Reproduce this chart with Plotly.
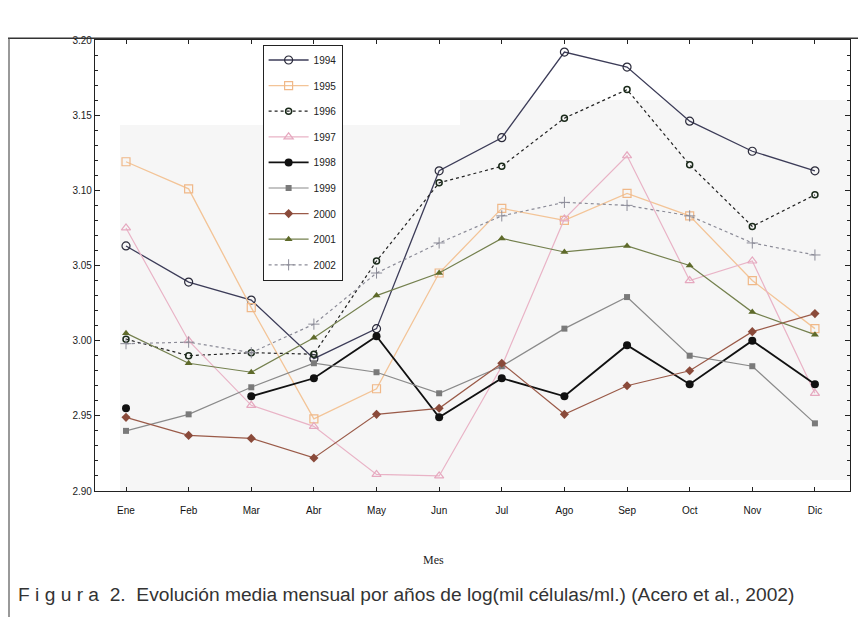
import plotly.graph_objects as go

months = ["Ene", "Feb", "Mar", "Abr", "May", "Jun", "Jul", "Ago", "Sep", "Oct", "Nov", "Dic"]
y1994 = [3.063, 3.039, 3.027, 2.988, 3.008, 3.113, 3.135, 3.192, 3.182, 3.146, 3.126, 3.113]
y1995 = [3.119, 3.101, 3.022, 2.948, 2.968, 3.045, 3.088, 3.080, 3.098, 3.083, 3.040, 3.008]
y1996 = [3.001, 2.990, 2.992, 2.991, 3.053, 3.105, 3.116, 3.148, 3.167, 3.117, 3.076, 3.097]
y1997 = [3.075, 3.000, 2.957, 2.943, 2.911, 2.910, 2.983, 3.081, 3.123, 3.040, 3.053, 2.965]
y1998 = [2.955, None, 2.963, 2.975, 3.003, 2.949, 2.975, 2.963, 2.997, 2.971, 3.000, 2.971]
y1999 = [2.940, 2.951, 2.969, 2.985, 2.979, 2.965, 2.983, 3.008, 3.029, 2.990, 2.983, 2.945]
y2000 = [2.949, 2.937, 2.935, 2.922, 2.951, 2.955, 2.985, 2.951, 2.970, 2.980, 3.006, 3.018]
y2001 = [3.005, 2.985, 2.979, 3.002, 3.030, 3.045, 3.068, 3.059, 3.063, 3.050, 3.019, 3.004]
y2002 = [2.998, 2.999, 2.992, 3.011, 3.045, 3.065, 3.083, 3.092, 3.090, 3.083, 3.065, 3.057]
yticks = [2.90, 2.95, 3.00, 3.05, 3.10, 3.15, 3.20]

series = [
    ("1994", y1994, dict(color="#3c3c58", width=1.3, dash="solid"),
     dict(symbol="circle-open", size=8, color="#2a2a3a", line=dict(width=1.2))),
    ("1995", y1995, dict(color="#f3c497", width=1.3, dash="solid"),
     dict(symbol="square-open", size=8, color="#f0b888", line=dict(width=1.2))),
    ("1996", y1996, dict(color="#222222", width=1.2, dash="dot"),
     dict(symbol="circle-open", size=6, color="#1a2a1a", line=dict(width=1.5))),
    ("1997", y1997, dict(color="#e9b3c6", width=1.2, dash="solid"),
     dict(symbol="triangle-up-open", size=8, color="#e6a8bf", line=dict(width=1.2))),
    ("1998", y1998, dict(color="#111111", width=1.8, dash="solid"),
     dict(symbol="circle", size=8, color="#111111")),
    ("1999", y1999, dict(color="#8a8a8a", width=1.2, dash="solid"),
     dict(symbol="square", size=6, color="#7a7a7a")),
    ("2000", y2000, dict(color="#9a5a48", width=1.2, dash="solid"),
     dict(symbol="diamond", size=7, color="#8a4a3a")),
    ("2001", y2001, dict(color="#74804e", width=1.2, dash="solid"),
     dict(symbol="triangle-up", size=7, color="#5e6a2a")),
    ("2002", y2002, dict(color="#8c8c98", width=1.2, dash="dot"),
     dict(symbol="cross-thin", size=8, color="#8c8c98", line=dict(width=1, color="#8c8c98"))),
]

x = list(range(len(months)))
fig = go.Figure()
for name, vals, ln, mk in series:
    fig.add_trace(go.Scatter(
        x=x, y=vals, name=name, mode="lines+markers",
        line=ln, marker=mk, legendgroup=name, connectgaps=False,
    ))

PW, PH = 755, 451
fig.update_layout(
    width=866, height=617,
    margin=dict(l=87, r=24, t=32, b=134),
    paper_bgcolor="white", plot_bgcolor="white",
    font=dict(family="Liberation Sans, Arial, sans-serif", color="#222222"),
    showlegend=True,
    legend=dict(
        x=0.222, y=0.99, xanchor="left", yanchor="top",
        bgcolor="white", bordercolor="#222222", borderwidth=1,
        font=dict(size=10, color="#222222"),
        tracegroupgap=6.6, itemwidth=40,
    ),
)
fig.update_xaxes(
    range=[-0.495, 11.56], tickmode="array", tickvals=x, ticktext=months,
    showgrid=False, zeroline=False, showline=True, linecolor="#222222", linewidth=1.2,
    mirror="ticks", ticks="inside", ticklen=4, tickcolor="#222222",
    tickfont=dict(size=10, color="#111111"), ticklabelstandoff=10,
)
fig.update_yaxes(
    range=[2.90, 3.20], tickmode="array", tickvals=yticks,
    ticktext=[f"{v:.2f}" for v in yticks],
    showgrid=False, zeroline=False, showline=True, linecolor="#222222", linewidth=1.2,
    mirror="ticks", ticks="inside", ticklen=5, tickcolor="#222222",
    minor=dict(dtick=0.01, ticks="inside", ticklen=3, tickcolor="#222222"),
    tickfont=dict(size=10, color="#222222"),
)

# faint scan shading inside the plot
fig.add_shape(type="rect", xref="paper", yref="paper", layer="below",
              x0=(120-95)/PW, x1=(460-95)/PW, y0=0, y1=1-(125-40)/PH,
              fillcolor="#f6f6f6", line=dict(width=0))
fig.add_shape(type="rect", xref="paper", yref="paper", layer="below",
              x0=(460-95)/PW, x1=1, y0=(491-480)/PH, y1=1-(100-40)/PH,
              fillcolor="#f6f6f6", line=dict(width=0))

# page border lines from the scanned figure
fig.add_shape(type="line", xref="paper", yref="paper", x0=-87/PW, x1=1+24/PW, y0=1.004, y1=1.004,
              line=dict(color="#333333", width=1.5))
fig.add_shape(type="line", xref="paper", yref="paper", x0=-86/PW, x1=-86/PW, y0=1.004, y1=-134/PH,
              line=dict(color="#555555", width=1.2))

fig.add_annotation(text="Mes", xref="paper", yref="paper", x=(433-95)/PW, y=-(560-491)/PH,
                   xanchor="center", yanchor="middle", showarrow=False,
                   font=dict(family="Liberation Serif, Times New Roman, serif", size=12, color="#222222"))
fig.add_annotation(text="F i g u r a  2.  Evolución media mensual por años de log(mil células/ml.) (Acero et al., 2002)",
                   xref="paper", yref="paper", x=(16-95)/PW, y=-(594-491)/PH, xanchor="left", yanchor="middle",
                   showarrow=False,
                   font=dict(family="Liberation Sans, Arial, sans-serif", size=19.2, color="#333333"))

fig.write_html("out.html")
